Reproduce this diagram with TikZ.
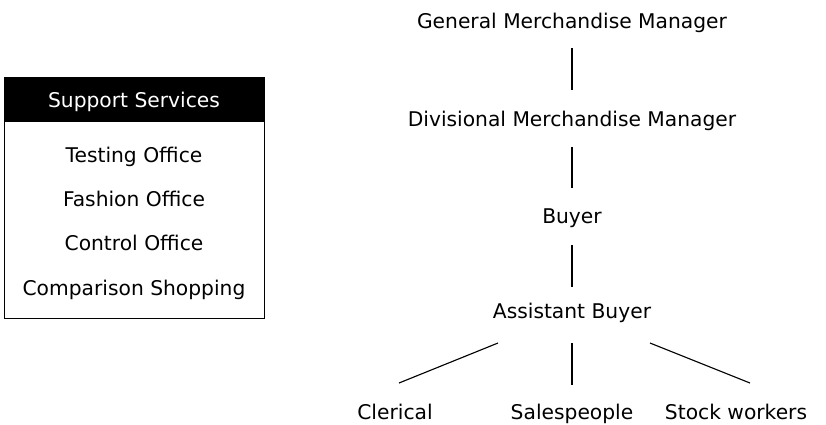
\documentclass[tikz,border=0pt]{standalone}
\usepackage{fontspec}
\setmainfont{DejaVu Sans}
\usetikzlibrary{positioning, calc}

\begin{document}
\begin{tikzpicture}[
    x=0.025cm, y=-0.025cm,
    role/.style={inner sep=0pt, anchor=base, font=\fontsize{14.4pt}{16pt}\selectfont},
    office/.style={role},
    link/.style={line width=0.8pt, black},
]
\useasboundingbox (0,0) rectangle (826,424);

% --- Left: support services panel ---
\node[draw, line width=0.9pt, minimum width=260*0.025cm, minimum height=241*0.025cm,
      inner sep=0pt, anchor=north west] (panel) at (4,77) {};
\node[fill=black, minimum width=260*0.025cm, minimum height=45*0.025cm,
      inner sep=0pt, anchor=north west] (head) at (4,77) {};
\node[office, text=white] (headtxt) at (134,107) {Support Services};
\node[office] (test) at (134,162) {Testing Office};
\node[office] (fash) at (134,206) {Fashion Office};
\node[office] (ctrl) at (134,250) {Control Office};
\node[office] (comp) at (134,295) {Comparison Shopping};

% --- Right: buying chain ---
\node[role] (gmm) at (572,28) {General Merchandise Manager};
\node[role] (dmm) at (572,126) {Divisional Merchandise Manager};
\node[role] (buy) at (572,223) {Buyer};
\node[role] (ab) at (572,318) {Assistant Buyer};

% Staff under the assistant buyer
\node[role] (cl) at (395,419) {Clerical};
\node[role] (sp) at (572,419) {Salespeople};
\node[role] (sw) at (736,419) {Stock workers};

\draw[link] ($(gmm.base)+(0,20)$) -- ($(dmm.base)+(0,-36)$);
\draw[link] ($(dmm.base)+(0,21)$) -- ($(buy.base)+(0,-35)$);
\draw[link] ($(buy.base)+(0,22)$) -- ($(ab.base)+(0,-31)$);
\draw[link] ($(ab.base)+(-74,25)$) -- ($(cl.base)+(4,-36)$);
\draw[link] ($(ab.base)+(0,25)$) -- ($(sp.base)+(0,-34)$);
\draw[link] ($(ab.base)+(78,25)$) -- ($(sw.base)+(14,-36)$);

\end{tikzpicture}
\end{document}
